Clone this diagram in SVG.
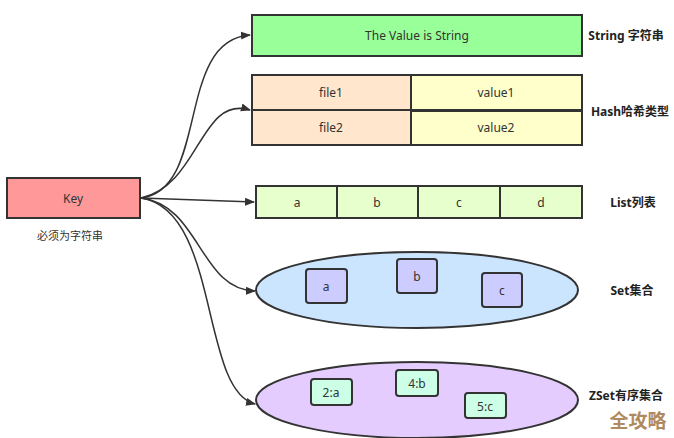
<svg xmlns="http://www.w3.org/2000/svg" width="674" height="438" viewBox="0 0 674 438">
<style>
.b{stroke:#333;stroke-width:2}
.t{font-family:"Noto Sans","Noto Sans CJK SC",sans-serif;font-size:12px;fill:#333;text-anchor:middle;dominant-baseline:central}
.l{font-family:"Noto Sans","Noto Sans CJK SC",sans-serif;font-size:12px;font-weight:bold;fill:#222;text-anchor:middle;dominant-baseline:central}
.c{fill:none;stroke:#333;stroke-width:1.5;marker-end:url(#a)}
</style>
<defs><marker id="a" markerWidth="10" markerHeight="10" refX="9" refY="5" orient="auto" markerUnits="userSpaceOnUse"><path d="M0,1 L10,5 L0,9 Z" fill="#333"/></marker></defs>
<rect width="674" height="438" fill="#fff"/>
<g id="key"><rect x="7" y="178" width="133" height="40" fill="#ff9999" class="b"/><text x="73" y="198" class="t">Key</text><text x="70" y="235" class="t" style="font-size:11px">必须为字符串</text></g>
<g id="string"><rect x="252" y="15" width="330" height="41" fill="#99ff99" class="b"/><text x="417" y="35" class="t">The Value is String</text><text x="626" y="35" class="l">String 字符串</text></g>
<g id="hash"><rect x="411" y="75" width="171" height="35" fill="#ffffcc" class="b"/><rect x="411" y="111" width="171" height="34" fill="#ffffcc" class="b"/><rect x="252" y="75" width="159" height="35" fill="#ffe6cc" class="b"/><rect x="252" y="110" width="159" height="35" fill="#ffe6cc" class="b"/><text x="331" y="92" class="t">file1</text><text x="496" y="92" class="t">value1</text><text x="331" y="127" class="t">file2</text><text x="496" y="127" class="t">value2</text><text x="630" y="111" class="l">Hash哈希类型</text></g>
<g id="list"><rect x="256" y="186" width="326" height="32" fill="#e6ffcc" class="b"/><line x1="337" y1="186" x2="337" y2="218" class="b"/><line x1="418" y1="186" x2="418" y2="218" class="b"/><line x1="500" y1="186" x2="500" y2="218" class="b"/><text x="297" y="202" class="t">a</text><text x="377" y="202" class="t">b</text><text x="459" y="202" class="t">c</text><text x="541" y="202" class="t">d</text><text x="633" y="202" class="l">List列表</text></g>
<g id="set"><ellipse cx="417" cy="290" rx="161" ry="38" fill="#cce5ff" class="b"/><rect x="306" y="269" width="41" height="34" rx="3" fill="#ccccff" class="b"/><text x="326" y="286" class="t">a</text><rect x="397" y="259" width="40" height="34" rx="3" fill="#ccccff" class="b"/><text x="417" y="276" class="t">b</text><rect x="482" y="273" width="40" height="34" rx="3" fill="#ccccff" class="b"/><text x="502" y="290" class="t">c</text><text x="632" y="290" class="l">Set集合</text></g>
<g id="zset"><ellipse cx="417" cy="400" rx="161" ry="38" fill="#e5ccff" class="b"/><rect x="311" y="379" width="41" height="26" rx="3" fill="#ccffe6" class="b"/><text x="331" y="392" class="t">2:a</text><rect x="396" y="370" width="42" height="26" rx="3" fill="#ccffe6" class="b"/><text x="417" y="383" class="t">4:b</text><rect x="465" y="393" width="41" height="25" rx="3" fill="#ccffe6" class="b"/><text x="485" y="406" class="t">5:c</text><text x="626" y="395" class="l">ZSet有序集合</text></g>
<text x="638" y="419" style="font-family:'Noto Sans CJK SC',sans-serif;font-size:19px;font-weight:bold;fill:#b08a5e;text-anchor:middle;dominant-baseline:central">全攻略</text>
<g id="connectors">
<path d="M141,198 C210,190 175,40 250,35" class="c"/>
<path d="M141,198 C200,185 200,95 250,110" class="c"/>
<path d="M141,198 L254,202" class="c"/>
<path d="M141,198 C200,205 200,290 255,291" class="c"/>
<path d="M141,198 C220,210 200,390 255,404" class="c"/>
</g>
</svg>
